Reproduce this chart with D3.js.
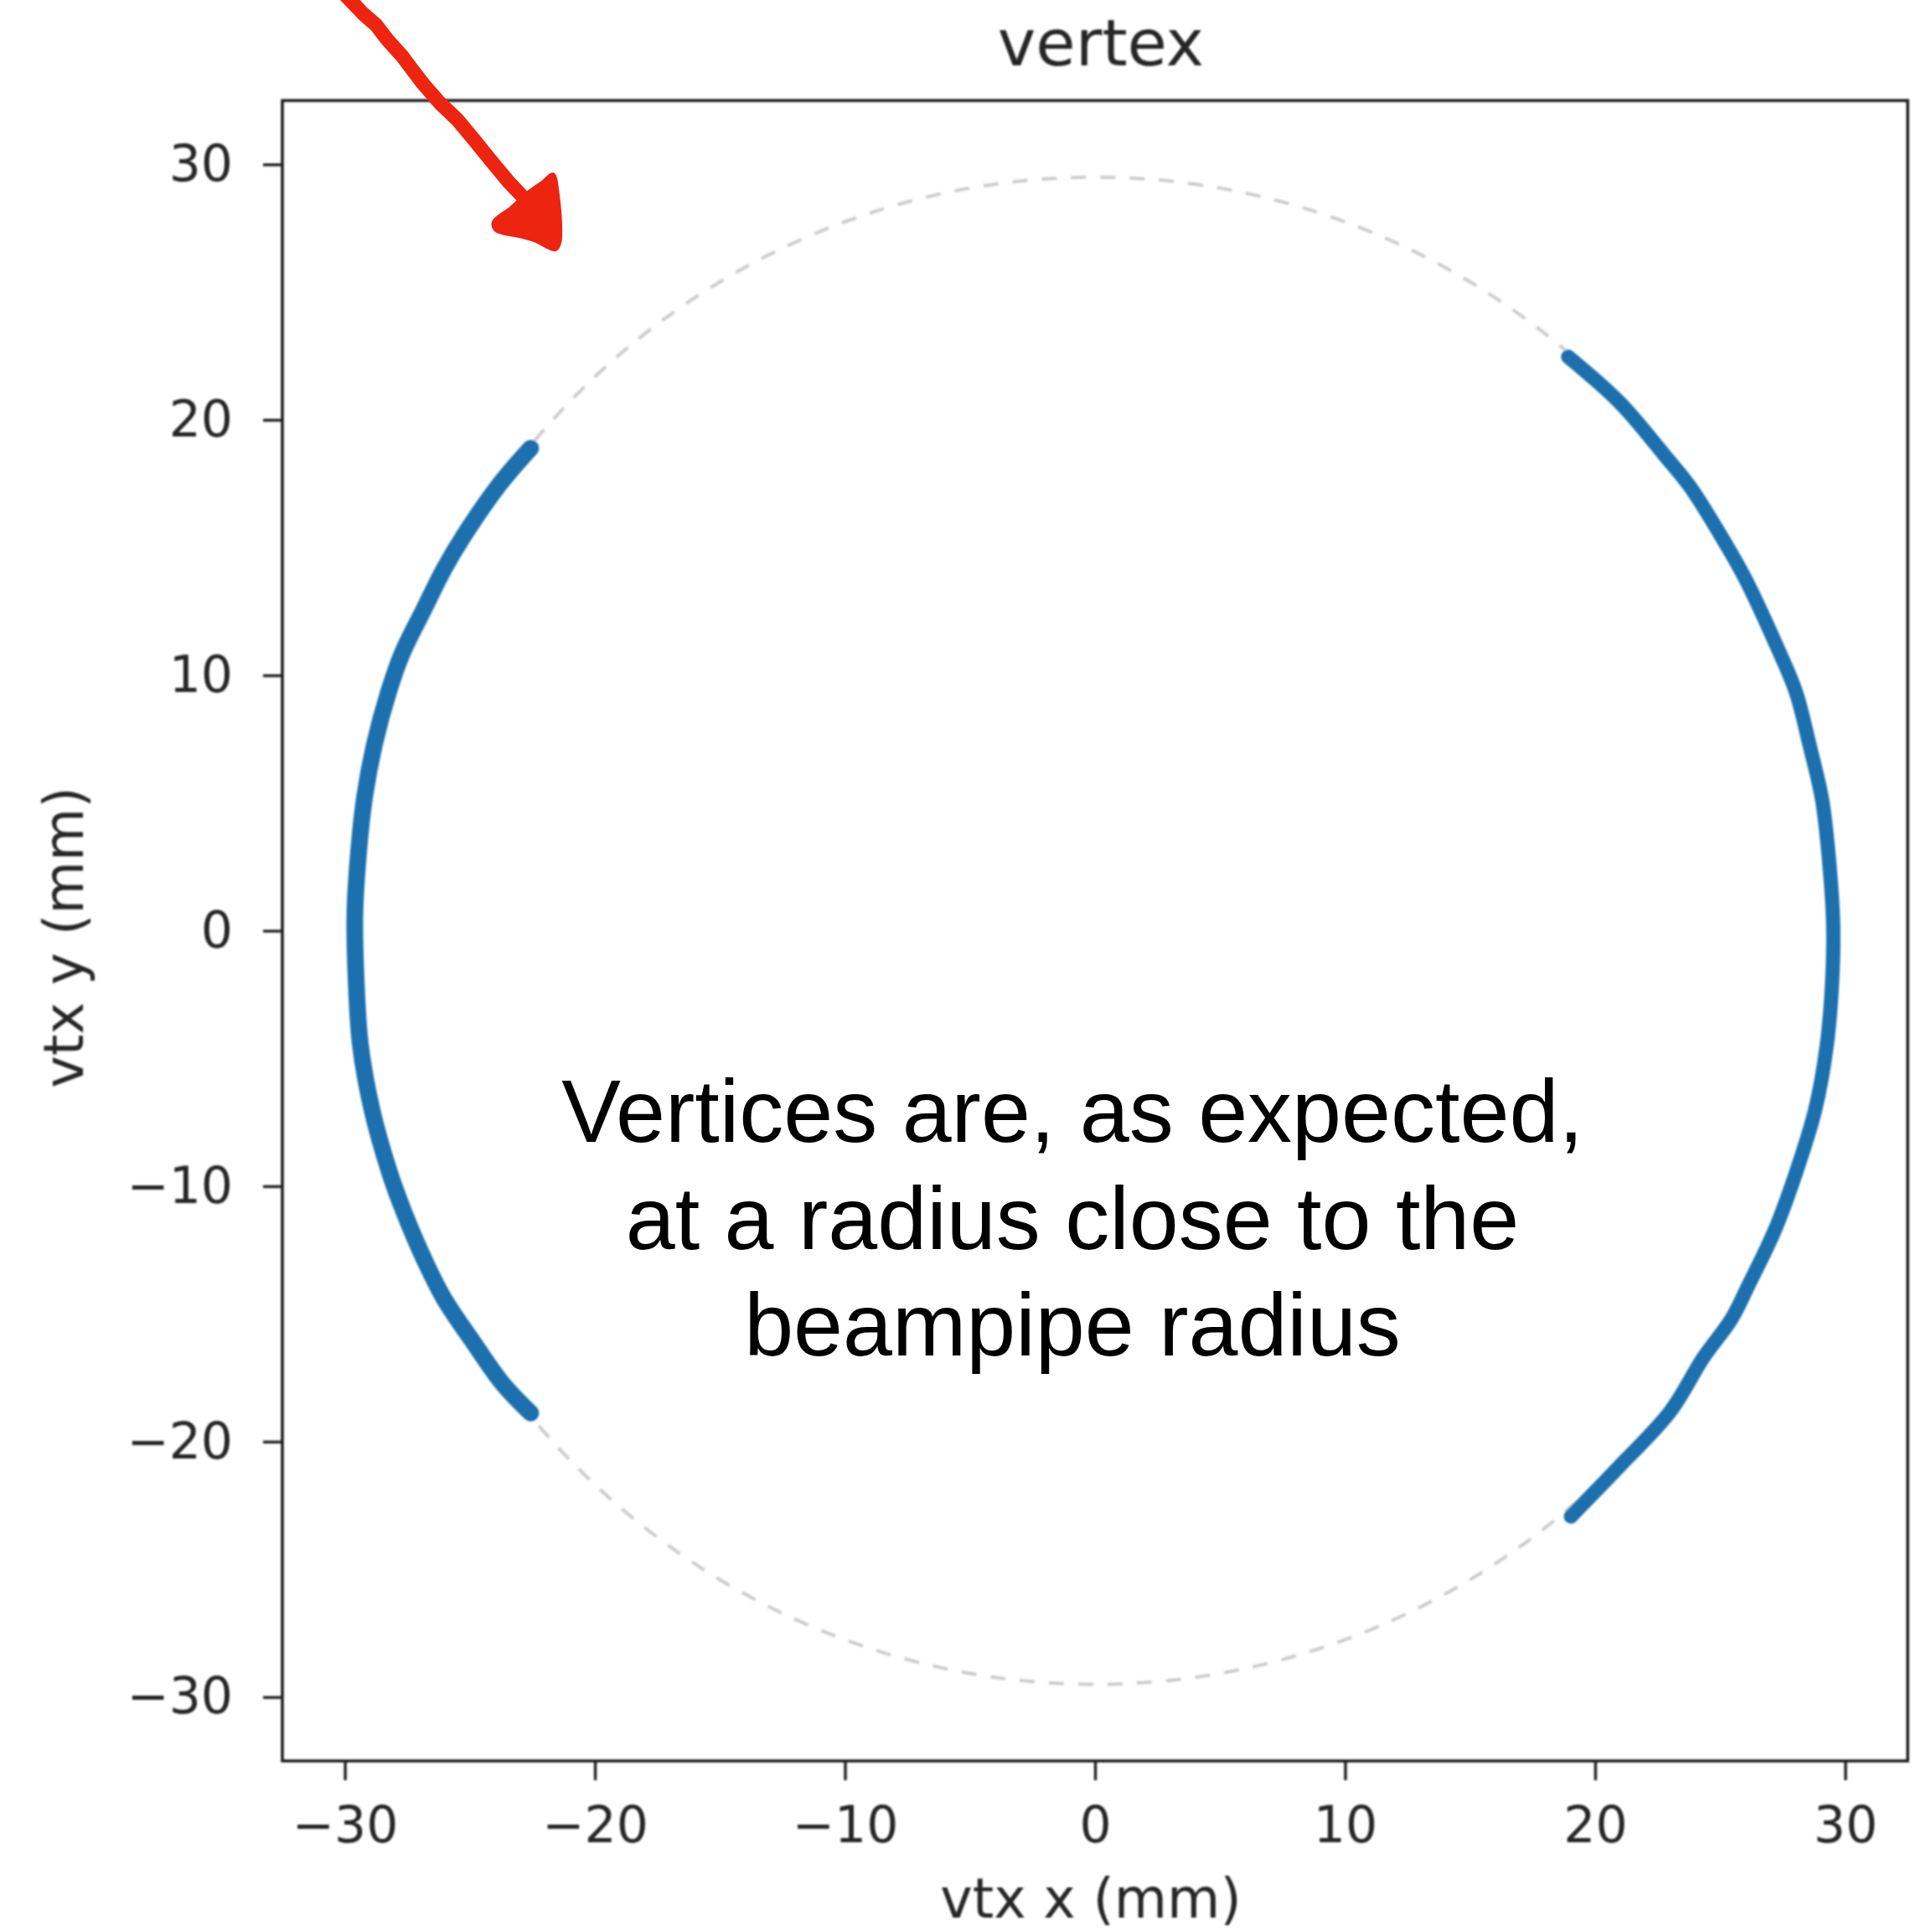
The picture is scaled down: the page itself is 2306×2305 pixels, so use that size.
<!DOCTYPE html>
<html>
<head>
<meta charset="utf-8">
<script src="https://cdn.jsdelivr.net/npm/d3@7"></script>
<style>
  html, body { margin: 0; padding: 0; background: #ffffff; }
  svg { display: block; }
</style>
</head>
<body>
<div id="chart"></div>
<script>
// ---- chart values -------------------------------------------------------
const xTickValues = [-30, -20, -10, 0, 10, 20, 30];
const yTickValues = [-30, -20, -10, 0, 10, 20, 30];
const axisExtent = [-32.5, 32.5];
const beampipeRadius = 29.5;   // mm, dashed reference circle

// reconstructed vertices (mm), right-hand arc, top to bottom
const rightArcX = [18.92, 20.99, 22.77, 23.81, 25.23, 26.01, 27.24, 28.02, 28.58, 29.08, 29.36, 29.52,
                   29.47, 29.25, 28.80, 27.96, 27.16, 26.13, 25.45, 24.33, 22.99, 20.98, 19.03];
const rightArcY = [22.47, 20.67, 18.62, 17.36, 15.13, 13.77, 11.19, 9.37, 7.25, 5.11, 2.70, 0.27,
                   -2.16, -4.58, -7.01, -9.68, -11.78, -13.88, -15.20, -16.71, -18.84, -20.96, -22.93];

// reconstructed vertices (mm), left-hand arc, top to bottom
const leftArcX = [-22.57, -23.80, -25.25, -26.03, -26.81, -27.71, -28.26, -28.82, -29.21, -29.44, -29.60,
                  -29.55, -29.38, -28.92, -28.20, -27.63, -26.84, -26.03, -24.80, -23.69, -22.57];
const leftArcY = [18.89, 17.49, 15.45, 14.17, 12.64, 10.85, 9.32, 7.28, 5.24, 3.20, 0.64,
                  -1.91, -4.46, -6.99, -9.50, -11.03, -12.84, -14.41, -16.20, -17.73, -18.88];

const titleText = "vertex";
const xLabelText = "vtx x (mm)";
const yLabelText = "vtx y (mm)";
const noteLines = ["Vertices are, as expected,", "at a radius close to the", "beampipe radius"];

// ---- layout -------------------------------------------------------------
const W = 2306, H = 2305;
const plot = { left: 337, right: 2277, top: 120, bottom: 2102 };
const tickFont = "'DejaVu Sans', sans-serif";
const inkColor = "#262626";

const x = d3.scaleLinear().domain(axisExtent).range([plot.left, plot.right]);
const y = d3.scaleLinear().domain(axisExtent).range([plot.bottom, plot.top]);

const svg = d3.select("#chart").append("svg")
  .attr("width", W).attr("height", H)
  .attr("viewBox", `0 0 ${W} ${H}`);

svg.append("rect").attr("width", W).attr("height", H).attr("fill", "#ffffff");

const defs = svg.append("defs");
defs.append("filter").attr("id", "soft")
  .attr("x", "-5%").attr("y", "-5%").attr("width", "110%").attr("height", "110%")
  .append("feGaussianBlur").attr("stdDeviation", 0.9);
defs.append("clipPath").attr("id", "plotClip")
  .append("rect")
  .attr("x", plot.left).attr("y", plot.top)
  .attr("width", plot.right - plot.left).attr("height", plot.bottom - plot.top);

const fig = svg.append("g").attr("filter", "url(#soft)");

// dashed beampipe circle
fig.append("ellipse")
  .attr("clip-path", "url(#plotClip)")
  .attr("cx", x(0)).attr("cy", y(0))
  .attr("rx", x(beampipeRadius) - x(0))
  .attr("ry", y(0) - y(beampipeRadius))
  .attr("fill", "none")
  .attr("stroke", "#cdcdcd")
  .attr("stroke-width", 4)
  .attr("stroke-dasharray", "18 17");

// vertex arcs
const arcLine = d3.line()
  .x(d => x(d[0])).y(d => y(d[1]))
  .curve(d3.curveCatmullRom.alpha(0.5));
const arcs = [
  { pts: d3.zip(rightArcX, rightArcY), width: 17 },
  { pts: d3.zip(leftArcX, leftArcY), width: 20 }
];
fig.append("g").attr("clip-path", "url(#plotClip)")
  .selectAll("path.arc").data(arcs).join("path")
  .attr("class", "arc")
  .attr("d", d => arcLine(d.pts))
  .attr("fill", "none")
  .attr("stroke", "#1f6fae")
  .attr("stroke-width", d => d.width)
  .attr("stroke-linecap", "round")
  .attr("stroke-linejoin", "round");

// axes
const xAxis = fig.append("g")
  .attr("transform", `translate(0,${plot.bottom})`)
  .call(d3.axisBottom(x).tickValues(xTickValues).tickSize(23).tickPadding(31));
const yAxis = fig.append("g")
  .attr("transform", `translate(${plot.left},0)`)
  .call(d3.axisLeft(y).tickValues(yTickValues).tickSize(23).tickPadding(36));

[xAxis, yAxis].forEach(ax => {
  ax.select(".domain").remove();
  ax.selectAll(".tick line").attr("stroke", inkColor).attr("stroke-width", 3.5);
  ax.selectAll(".tick text")
    .attr("fill", inkColor)
    .style("font-family", tickFont)
    .style("font-size", "60px");
});

// frame
fig.append("rect")
  .attr("x", plot.left).attr("y", plot.top)
  .attr("width", plot.right - plot.left).attr("height", plot.bottom - plot.top)
  .attr("fill", "none")
  .attr("stroke", "#1e1e1e")
  .attr("stroke-width", 3.5);

// title and axis labels
fig.append("text")
  .attr("x", (plot.left + plot.right) / 2 + 7).attr("y", 78)
  .attr("text-anchor", "middle")
  .attr("fill", inkColor)
  .style("font-family", tickFont).style("font-size", "77px")
  .text(titleText);

fig.append("text")
  .attr("x", (plot.left + plot.right) / 2 - 5).attr("y", 2289)
  .attr("text-anchor", "middle")
  .attr("fill", inkColor)
  .style("font-family", tickFont).style("font-size", "65px")
  .text(xLabelText);

fig.append("text")
  .attr("transform", `translate(99,${(plot.top + plot.bottom) / 2 + 8}) rotate(-90)`)
  .attr("text-anchor", "middle")
  .attr("fill", inkColor)
  .style("font-family", tickFont).style("font-size", "65px")
  .text(yLabelText);

// ---- overlaid note and pointer -----------------------------------------
const note = svg.append("text")
  .attr("text-anchor", "middle")
  .attr("fill", "#000000")
  .style("font-family", "'Liberation Sans', Arial, sans-serif")
  .style("font-size", "106px");
note.selectAll("tspan").data(noteLines).join("tspan")
  .attr("x", 1280)
  .attr("y", (d, i) => 1363 + i * 127.5)
  .text(d => d);

// hand-drawn red pointer towards the empty upper-left part of the ring
const shaft = [[412, -6], [433, 16], [449, 30], [462, 47], [480, 67], [492, 83], [505, 100],
               [525, 123], [546, 143], [566, 167], [587, 193], [607, 217], [625, 236]];
svg.append("path")
  .attr("d", d3.line()(shaft))
  .attr("fill", "none")
  .attr("stroke", "#ec2410")
  .attr("stroke-width", 17)
  .attr("stroke-linecap", "round")
  .attr("stroke-linejoin", "round");

const head = [[660, 208], [666, 233], [668, 290], [663, 298], [638, 287], [620, 282],
              [592, 275], [589, 265], [610, 248], [630, 230], [648, 217]];
svg.append("path")
  .attr("d", d3.line().curve(d3.curveCatmullRomClosed)(head))
  .attr("fill", "#ec2410")
  .attr("stroke", "#ec2410")
  .attr("stroke-width", 4)
  .attr("stroke-linejoin", "round");
</script>
</body>
</html>
